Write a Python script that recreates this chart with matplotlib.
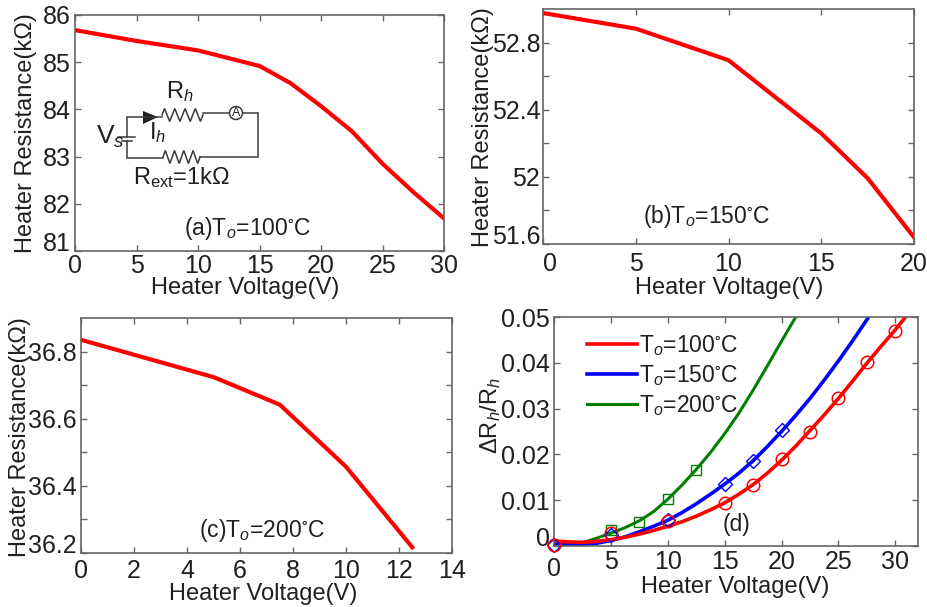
#!/usr/bin/env python3
"""Four panel heater resistance figure, with the small circuit sketch in panel (a)."""
import matplotlib
matplotlib.use("Agg")
import matplotlib.pyplot as plt
from matplotlib.patches import Circle, Polygon

plt.rcParams["font.family"] = "Liberation Sans"
plt.rcParams["mathtext.fontset"] = "custom"
plt.rcParams["mathtext.rm"] = "Liberation Sans"
plt.rcParams["mathtext.it"] = "Liberation Sans:italic"
plt.rcParams["mathtext.fallback"] = "stixsans"

W, H = 927, 607
C_TEXT = "#231f20"
C_AXIS = "#666666"
RED = "#ff0000"
BLUE = "#0000ff"
GREEN = "#007f00"

# panel (a)
A_X = [0, 5, 10, 15, 17.5, 20, 22.5, 25, 27.5, 30]
A_Y = [85.68, 85.45, 85.25, 84.92, 84.56, 84.07, 83.54, 82.85, 82.25, 81.69]
# panel (b)
B_X = [0, 5, 10, 15, 17.5, 20]
B_Y = [52.976, 52.883, 52.695, 52.259, 51.992, 51.64]
# panel (c)
C_X = [0, 5, 7.5, 10, 12.5]
C_Y = [36.835, 36.724, 36.642, 36.457, 36.217]

# panel (d), fitted curves
D_RED_X = [0, 1.25, 2.5, 3.75, 5, 6.25, 7.5, 8.75, 10, 11.25, 12.5, 13.75, 15, 16.25,
           17.5, 18.75, 20, 21.25, 22.5, 23.75, 25, 26.25, 27.5, 28.75, 30, 31]
D_RED_Y = [0.0011, 0.0009, 0.0008, 0.0010, 0.0014, 0.0019, 0.0026, 0.0034, 0.0043,
           0.0053, 0.0065, 0.0079, 0.0094, 0.0113, 0.0134, 0.0159, 0.0187, 0.0218,
           0.0252, 0.0286, 0.0322, 0.0360, 0.0399, 0.0436, 0.0472, 0.0503]
D_BLUE_X = [0, 1.25, 2.5, 3.75, 5, 6.25, 7.5, 8.75, 10, 11.25, 12.5, 13.75, 15, 16.25,
            17.5, 18.75, 20, 21.25, 22.5, 23.75, 25, 26.25, 27.5, 28]
D_BLUE_Y = [0.0003, 0.0002, 0.0003, 0.0006, 0.0012, 0.0020, 0.0031, 0.0043, 0.0056,
            0.0073, 0.0092, 0.0113, 0.0135, 0.0159, 0.0186, 0.0217, 0.0250, 0.0285,
            0.0322, 0.0362, 0.0404, 0.0448, 0.0494, 0.0513]
D_GREEN_X = [0, 1.25, 2.5, 3.75, 5, 6.25, 7.5, 8.75, 10, 11.25, 12.5, 13.75, 15, 16.25,
             17.5, 18.75, 20, 21.25, 21.5]
D_GREEN_Y = [0.0003, 0.0003, 0.0007, 0.0017, 0.0028, 0.0040, 0.0055, 0.0075, 0.0102,
             0.0133, 0.0167, 0.0204, 0.0245, 0.0290, 0.0340, 0.0393, 0.0447, 0.0500,
             0.0511]

# panel (d), markers
M_RED_X = [0, 5, 10, 15, 17.5, 20, 22.5, 25, 27.5, 30]
M_RED_Y = [0.00015, 0.0029, 0.0055, 0.0093, 0.0134, 0.0190, 0.0250, 0.0323,
           0.0401, 0.0469]
M_BLUE_X = [0, 5, 10, 15, 17.5, 20]
M_BLUE_Y = [0.00015, 0.0025, 0.0056, 0.0136, 0.0186, 0.0253]
M_GREEN_X = [5, 7.5, 10, 12.5]
M_GREEN_Y = [0.0034, 0.0053, 0.0102, 0.0167]

LEGEND_LABELS = [r"T$_{\mathit{o}}$=100$^{\circ}$C",
                 r"T$_{\mathit{o}}$=150$^{\circ}$C",
                 r"T$_{\mathit{o}}$=200$^{\circ}$C"]


def panel(fig, left, top, right, bottom, xlim, ylim, xticks, yticks, ylabels, xpad, ypad):
    ax = fig.add_axes([left / W, 1 - bottom / H, (right - left) / W, (bottom - top) / H])
    ax.set_xlim(*xlim)
    ax.set_ylim(*ylim)
    ax.set_xticks(xticks)
    ax.set_yticks(yticks)
    ax.set_yticklabels(ylabels)
    ax.tick_params(direction="in", top=True, right=True, length=4, width=1.0,
                   color=C_AXIS, labelsize=18, labelcolor=C_TEXT)
    ax.tick_params(axis="x", pad=xpad)
    ax.tick_params(axis="y", pad=ypad)
    for s in ax.spines.values():
        s.set_color(C_AXIS)
        s.set_linewidth(1.2)
    # lowest y label sits on its tick in the original
    ax.get_yticklabels()[0].set_va("baseline")
    return ax


def ftext(fig, x, y, s, size=17, **kw):
    """Text at pixel position (from top left) of the figure."""
    kw.setdefault("ha", "center")
    kw.setdefault("va", "center")
    return fig.text(x / W, 1 - y / H, s, fontsize=size, color=C_TEXT, **kw)


def zigzag(x0, x1, yc, amp, n=8):
    """Resistor symbol between x0 and x1."""
    xs, ys = [x0], [yc]
    for i in range(n):
        xs.append(x0 + (x1 - x0) * (i + 0.5) / n)
        ys.append(yc + (amp if i % 2 else -amp))
    xs.append(x1)
    ys.append(yc)
    return xs, ys


def draw_circuit(fig):
    ov = fig.add_axes([0, 0, 1, 1], zorder=10)
    ov.set_xlim(0, W)
    ov.set_ylim(H, 0)
    ov.axis("off")
    lk = dict(color="#3a3a3a", lw=1.1, solid_joinstyle="miter")
    ov.plot([127, 127, 162], [137, 117, 117], **lk)
    xs, ys = zigzag(162, 203, 115, 6.5)
    ov.plot(xs, ys, **lk)
    ov.plot([203, 229], [113, 113], **lk)
    ov.add_patch(Circle((236, 113), 6.5, fc="white", ec="#3a3a3a", lw=1.1))
    ov.text(236, 113.5, "A", ha="center", va="center", fontsize=9, color=C_TEXT)
    ov.plot([243, 258, 258, 200], [113, 113, 157, 157], **lk)
    xs, ys = zigzag(163, 200, 157, 6.5)
    ov.plot(xs, ys, **lk)
    ov.plot([163, 127, 127], [158, 158, 141], **lk)
    ov.plot([118, 135], [137, 137], **lk)
    ov.plot([122, 132], [141, 141], **lk)
    ov.add_patch(Polygon([(143, 111), (143, 124), (158, 117)], fc="#231f20", ec="none"))


def main():
    fig = plt.figure(figsize=(W / 100, H / 100), dpi=100, facecolor="white")

    ax = panel(fig, 75, 15, 444, 251, (0, 30), (81, 86), [0, 5, 10, 15, 20, 25, 30],
               [81, 82, 83, 84, 85, 86], ["81", "82", "83", "84", "85", "86"], 2.5, 3)
    ax.plot(A_X, A_Y, color=RED, lw=3)

    ax = panel(fig, 543, 9, 914, 244, (0, 20), (51.6, 53), [0, 5, 10, 15, 20],
               [51.6, 51.8, 52, 52.2, 52.4, 52.6, 52.8],
               ["51.6", "", "52", "", "52.4", "", "52.8"], 5.5, 2)
    ax.plot(B_X, B_Y, color=RED, lw=3)
    ax.get_xticklabels()[0].set_ha("left")

    ax = panel(fig, 81, 318, 452, 553, (0, 14), (36.2, 36.9), [0, 2, 4, 6, 8, 10, 12, 14],
               [36.2, 36.3, 36.4, 36.5, 36.6, 36.7, 36.8],
               ["36.2", "", "36.4", "", "36.6", "", "36.8"], 4.5, 3)
    ax.plot(C_X, C_Y, color=RED, lw=3)

    ax = panel(fig, 554, 317, 918, 546, (0, 32), (0, 0.05), [0, 5, 10, 15, 20, 25, 30],
               [0, 0.01, 0.02, 0.03, 0.04, 0.05],
               ["0", "0.01", "0.02", "0.03", "0.04", "0.05"], 3, 3)
    ax.plot(D_GREEN_X, D_GREEN_Y, color=GREEN, lw=2.2, label=LEGEND_LABELS[2])
    ax.plot(D_BLUE_X, D_BLUE_Y, color=BLUE, lw=2.6, label=LEGEND_LABELS[1])
    ax.plot(D_RED_X, D_RED_Y, color=RED, lw=2.6, label=LEGEND_LABELS[0])
    mk = dict(ls="none", mfc="none", clip_on=False, zorder=5)
    ax.plot(M_GREEN_X, M_GREEN_Y, marker="s", ms=6.5, mec=GREEN, mew=1.0, **mk)
    ax.plot(M_BLUE_X, M_BLUE_Y, marker="D", ms=7, mec=BLUE, mew=1.0, **mk)
    ax.plot(M_RED_X, M_RED_Y, marker="o", ms=9, mec=RED, mew=1.1, **mk)
    ax.get_xticklabels()[0].set_y(-7 / 229)  # "0" sits lower than the others
    h, l = ax.get_legend_handles_labels()
    ax.legend(h[::-1], l[::-1], loc="upper left", bbox_to_anchor=(0.092, 0.93), frameon=False,
              fontsize=16.5, handlelength=2.15, handletextpad=0.1, labelspacing=0.22,
              borderpad=0, borderaxespad=0, labelcolor=C_TEXT)

    # axis labels
    for x, y in [(245, 288), (729, 288), (263, 594), (735, 587)]:
        ftext(fig, x, y, "Heater Voltage(V)")
    for x, y in [(26, 133), (483, 127), (20, 437)]:
        ftext(fig, x, y, "Heater Resistance(k\u03a9)", rotation=90)
    ftext(fig, 491, 415, r"$\Delta$R$_{\mathit{h}}$/R$_{\mathit{h}}$", rotation=90)

    # panel tags
    ftext(fig, 248, 228, r"(a)T$_{\mathit{o}}$=100$^{\circ}$C", size=16.5, zorder=11)
    ftext(fig, 707, 216, r"(b)T$_{\mathit{o}}$=150$^{\circ}$C", size=16.5)
    ftext(fig, 262, 530, r"(c)T$_{\mathit{o}}$=200$^{\circ}$C", size=16.5)
    ftext(fig, 737, 524, "(d)", size=16.5)

    draw_circuit(fig)
    ftext(fig, 180, 92, r"R$_{\mathit{h}}$", size=17, zorder=11)
    ftext(fig, 110, 137, r"V$_{\mathit{s}}$", size=19, zorder=11)
    ftext(fig, 158, 133, r"I$_{\mathit{h}}$", size=17, zorder=11)
    ftext(fig, 182, 178, "R$_{\\mathrm{ext}}$=1k\u03a9", size=17, zorder=11)

    fig.savefig("out.png", dpi=100)
    plt.close(fig)


if __name__ == "__main__":
    main()
